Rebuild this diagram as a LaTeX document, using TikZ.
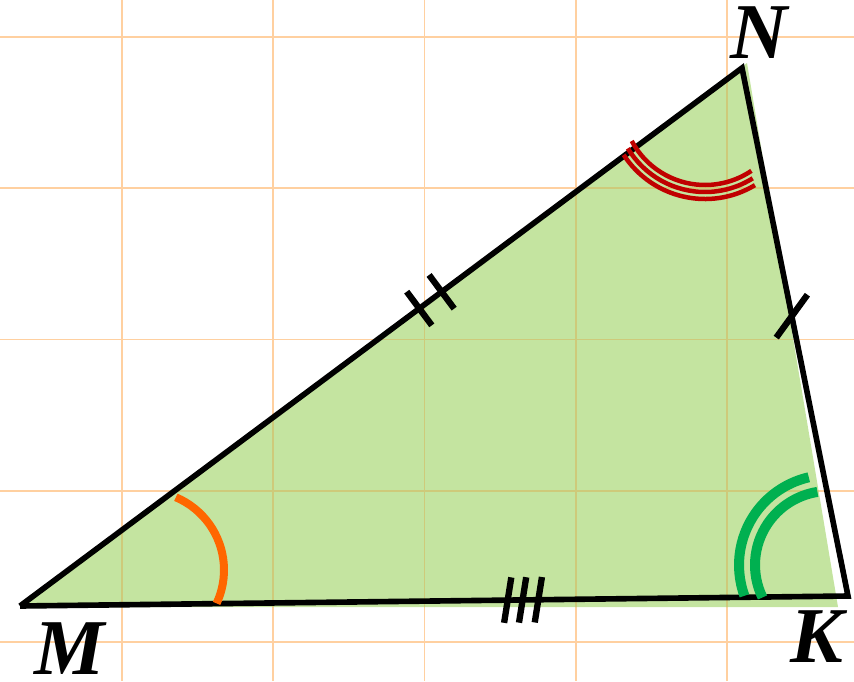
\documentclass[tikz,border=0pt]{standalone}
\usepackage{fontspec}
\setmainfont{Liberation Serif}
\usetikzlibrary{calc}
\definecolor{gridline}{RGB}{255,208,160}
\definecolor{gridfill}{RGB}{206,202,122}
\definecolor{leaf}{RGB}{196,228,160}
\definecolor{angM}{RGB}{255,102,0}
\definecolor{angN}{RGB}{192,0,0}
\definecolor{angK}{RGB}{0,176,80}
\newcommand{\paper}[1]{%
 \foreach \i in {0,...,4}{%
  \draw[#1,line width=1.1pt] (122+151.25*\i,0)--++(0,681);
  \draw[#1,line width=1.1pt] (0,39+151.25*\i)--++(854,0);}}

\begin{document}
\begin{tikzpicture}[x=.02cm,y=.02cm,line width=3.2pt,
 vertex/.style={font=\fontsize{45}{45}\selectfont\bfseries\itshape,inner sep=0pt}]
\useasboundingbox (0,0) rectangle (854,681);
\coordinate (M) at (20,75);
\coordinate (N) at (742,613);
\coordinate (K) at (848,85);
\paper{gridline}
\fill[leaf] (22,74)--(747,618)--(838,74)--cycle;
\begin{scope}
\clip (22,74)--(747,618)--(838,74)--cycle;
\paper{gridfill}
\end{scope}
\draw (M)--(N)--(K)--(M);
% ticks on the sides
\begin{scope}[line width=3.6pt]
\foreach \t in {.553,.584} \draw ($(M)!\t!(N)$) +(126.7:21) -- +(-53.3:21);
\draw ($(N)!.47!(K)$) +(54:26.5) -- +(234:26.5);
\foreach \t in {.589,.607,.626} \draw ($(M)!\t!(K)$) +(81:23) -- +(261:23);
\end{scope}
% angle marks
\draw[angM,line width=4.55pt] (145,111) ++(-25:79) arc[start angle=-25,end angle=67,radius=79];
\draw[angN,line width=2.56pt] (705,579) ++(213:97) arc[start angle=213,end angle=301,radius=97];
\draw[angN,line width=2.56pt] (705,579) ++(211:90) arc[start angle=211,end angle=302,radius=90];
\draw[angN,line width=2.56pt] (705,579) ++(208:83) arc[start angle=208,end angle=304,radius=83];
\draw[angK,line width=5.7pt] (829,116) ++(200:90) arc[start angle=200,end angle=103,radius=90];
\draw[angK,line width=5.7pt] (829,116) ++(206:74) arc[start angle=206,end angle=99,radius=74];
\node[vertex] (labN) at (759,648) {N};
\node[vertex] (labK) at (817,44) {K};
\node[vertex] (labM) at (70,32) {M};
\end{tikzpicture}
\end{document}
